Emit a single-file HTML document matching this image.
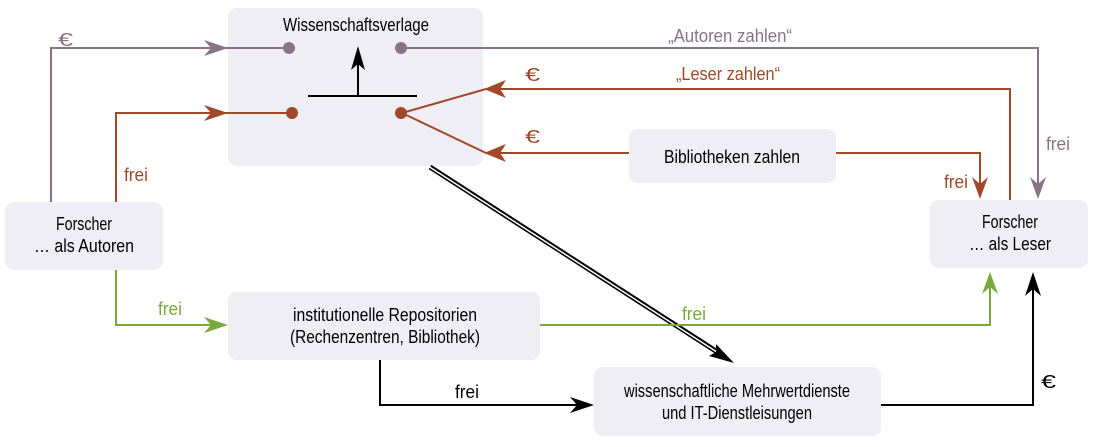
<!DOCTYPE html>
<html><head><meta charset="utf-8"><style>
html,body{margin:0;padding:0;background:#fff}
svg{display:block}
text{font-family:"Liberation Sans",sans-serif;font-size:18px}
</style></head><body>
<svg width="1094" height="447" viewBox="0 0 1094 447" xmlns="http://www.w3.org/2000/svg">
<g fill="#eeeef4">
<rect x="228" y="8" width="255" height="158" rx="9"/>
<rect x="629" y="129" width="207" height="54" rx="9"/>
<rect x="5" y="202" width="158" height="68" rx="9"/>
<rect x="930" y="200" width="158" height="68" rx="9"/>
<rect x="228" y="292" width="312" height="68" rx="9"/>
<rect x="594" y="367" width="287" height="69" rx="9"/>
</g>
<g stroke="#8a7388" stroke-width="2" fill="none">
<polyline points="51,202 51,48 215,48"/>
<line x1="215" y1="48" x2="288" y2="48"/>
<polyline points="400,48 1038,48 1038,185"/>
</g>
<g fill="#8a7388" lengthAdjust="spacingAndGlyphs">
<path d="M228,48 L204,40 L211,48 L204,56Z"/>
<path d="M1038,199 L1030,177 L1038,184 L1046,177Z"/>
<circle cx="289" cy="48" r="6"/><circle cx="401" cy="48" r="6"/>
<text x="58" y="46" textLength="15" lengthAdjust="spacingAndGlyphs">€</text>
<text x="668" y="42" textLength="124" lengthAdjust="spacingAndGlyphs">„Autoren zahlen“</text>
<text x="1046" y="150" textLength="24" lengthAdjust="spacingAndGlyphs">frei</text>
</g>
<g stroke="#a0492a" stroke-width="2" fill="none">
<polyline points="116,202 116,113 290,113"/>
<polyline points="402,113 486,89 1010,89 1010,200"/>
<polyline points="402,113 486,153 629,153"/>
<polyline points="836,153 980,153 980,185"/>
</g>
<g fill="#a0492a">
<path d="M228,113 L204,105 L211,113 L204,121Z"/>
<path d="M484,89 L506,80 L500,89 L506,98Z"/>
<path d="M484,153 L506,144 L500,153 L506,162Z"/>
<path d="M980,199 L972,177 L980,184 L988,177Z"/>
<circle cx="292" cy="113" r="6"/><circle cx="401" cy="113" r="6"/>
<text x="124" y="181" textLength="24" lengthAdjust="spacingAndGlyphs">frei</text>
<text x="525" y="81" textLength="15" lengthAdjust="spacingAndGlyphs">€</text>
<text x="525" y="143" textLength="15" lengthAdjust="spacingAndGlyphs">€</text>
<text x="676" y="80" textLength="104" lengthAdjust="spacingAndGlyphs">„Leser zahlen“</text>
<text x="944" y="188" textLength="24" lengthAdjust="spacingAndGlyphs">frei</text>
</g>
<g stroke="#000" stroke-width="2" fill="none">
<line x1="308" y1="96" x2="417" y2="96"/>
<line x1="358" y1="96" x2="358" y2="60"/>
</g>
<path d="M358,46 L351,70 L358,64 L365,70Z" fill="#000"/>
<line x1="430" y1="167" x2="722" y2="355" stroke="#000" stroke-width="5"/>
<line x1="428" y1="166" x2="720" y2="354" stroke="#fff" stroke-width="1.5"/>
<path d="M734,363 L709,356 L716,352 L716,344Z" fill="#000"/>
<g stroke="#7aa83a" stroke-width="2" fill="none">
<polyline points="116,270 116,325 215,325"/>
<polyline points="540,325 990,325 990,285"/>
</g>
<g fill="#7aa83a">
<path d="M228,325 L204,317 L211,325 L204,333Z"/>
<path d="M990,272 L982,294 L990,287 L998,294Z"/>
<text x="158" y="315" textLength="24" lengthAdjust="spacingAndGlyphs">frei</text>
<text x="682" y="320" textLength="24" lengthAdjust="spacingAndGlyphs">frei</text>
</g>
<g stroke="#000" stroke-width="2" fill="none">
<polyline points="380,360 380,405 580,405"/>
<polyline points="881,405 1033,405 1033,285"/>
</g>
<path d="M594,405 L570,397 L577,405 L570,413Z" fill="#000"/>
<path d="M1033,272 L1025,296 L1033,289 L1041,296Z" fill="#000"/>
<text x="455" y="398" textLength="24" lengthAdjust="spacingAndGlyphs">frei</text>
<text x="1041" y="388" textLength="15" lengthAdjust="spacingAndGlyphs">€</text>
<g fill="#000" text-anchor="middle">
<text x="356" y="31" textLength="146" lengthAdjust="spacingAndGlyphs">Wissenschaftsverlage</text>
<text x="732" y="163" textLength="136" lengthAdjust="spacingAndGlyphs">Bibliotheken zahlen</text>
<text x="84" y="230" textLength="56" lengthAdjust="spacingAndGlyphs">Forscher</text>
<text x="84" y="252" textLength="100" lengthAdjust="spacingAndGlyphs">… als  Autoren</text>
<text x="1010" y="228" textLength="56" lengthAdjust="spacingAndGlyphs">Forscher</text>
<text x="1010" y="250" textLength="82" lengthAdjust="spacingAndGlyphs">… als  Leser</text>
<text x="385" y="321" textLength="184" lengthAdjust="spacingAndGlyphs">institutionelle Repositorien</text>
<text x="385" y="343" textLength="190" lengthAdjust="spacingAndGlyphs">(Rechenzentren, Bibliothek)</text>
<text x="737" y="397" textLength="226" lengthAdjust="spacingAndGlyphs">wissenschaftliche Mehrwertdienste</text>
<text x="737" y="419" textLength="150" lengthAdjust="spacingAndGlyphs">und IT-Dienstleisungen</text>
</g>
</svg>
</body></html>
